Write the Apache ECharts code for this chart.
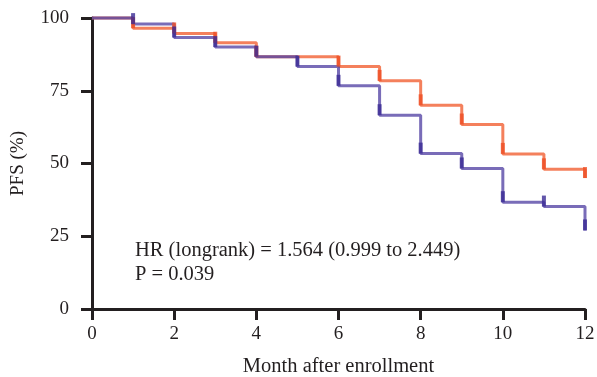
<!DOCTYPE html>
<html><head><meta charset="utf-8">
<script src="https://cdn.jsdelivr.net/npm/echarts@6/dist/echarts.min.js"></script>
<style>html,body{margin:0;padding:0;background:#fff}#c{width:597px;height:377px}</style>
</head><body><div id="c"></div>
<script>
var xTicks = [0, 2, 4, 6, 8, 10, 12];
var yTicks = [0, 25, 50, 75, 100];
var orangeTime = [0, 1, 2, 3, 4, 6, 7, 8, 9, 10, 11, 12];
var orangePFS  = [100, 96.5, 94.7, 91.5, 86.7, 83.3, 78.4, 70.0, 63.4, 53.3, 48.0, 45.0];
var purpleTime = [0, 1, 2, 3, 4, 5, 6, 7, 8, 9, 10, 11, 12];
var purplePFS  = [100, 97.9, 93.3, 90.0, 86.7, 83.3, 76.7, 66.6, 53.4, 48.3, 36.7, 35.2, 27.0];
var statLines = ['HR (longrank) = 1.564 (0.999 to 2.449)', 'P = 0.039'];

function pairs(t, v) { return t.map(function (x, i) { return [x, v[i]]; }); }
var FONT = 'Liberation Serif';
var chart = echarts.init(document.getElementById('c'), null, {renderer: 'canvas'});
var oLine = '#F26A3F', oTick = '#EF4F25', pLine = '#5747A6', pTick = '#3B2C95';
chart.setOption({
  animation: false,
  grid: {left: 92, right: 12, top: 18, bottom: 68, containLabel: false, outerBoundsMode: 'none'},
  xAxis: {
    type: 'value', min: 0, max: 12, interval: 2,
    name: 'Month after enrollment', nameLocation: 'middle', nameGap: 47,
    nameTextStyle: {fontFamily: FONT, fontSize: 20.5, color: '#231F20'},
    axisLine: {onZero: false, lineStyle: {color: '#231F20', width: 3}},
    axisTick: {length: 11, lineStyle: {color: '#231F20', width: 3}},
    axisLabel: {margin: 16, fontFamily: FONT, fontSize: 19, color: '#231F20'},
    splitLine: {show: false}
  },
  yAxis: {
    type: 'value', min: 0, max: 100, interval: 25,
    name: 'PFS (%)', nameLocation: 'middle', nameGap: 64, nameRotate: 90,
    nameTextStyle: {fontFamily: FONT, fontSize: 19, color: '#231F20'},
    axisLine: {onZero: false, lineStyle: {color: '#231F20', width: 3}},
    axisTick: {length: 11, lineStyle: {color: '#231F20', width: 3}},
    axisLabel: {margin: 23, fontFamily: FONT, fontSize: 19, color: '#231F20'},
    splitLine: {show: false}
  },
  graphic: [
    {type: 'text', left: 135, top: 240, style: {text: statLines[0], font: '20.5px "Liberation Serif"', fill: '#231F20'}},
    {type: 'text', left: 135, top: 264, style: {text: statLines[1], font: '20.5px "Liberation Serif"', fill: '#231F20'}}
  ],
  series: [
    {type: 'line', step: 'end', data: pairs(orangeTime, orangePFS), showSymbol: false, z: 2,
     lineStyle: {color: oLine, width: 3, opacity: 0.85}, clip: false},
    {type: 'line', step: 'end', data: pairs(purpleTime, purplePFS), showSymbol: false, z: 3,
     lineStyle: {color: pLine, width: 3, opacity: 0.8}, clip: false},
    {type: 'scatter', data: pairs(orangeTime.slice(1), orangePFS.slice(1)), symbol: 'rect',
     symbolSize: [4, 11], symbolOffset: [0, -5.5], itemStyle: {color: oTick}, z: 4, clip: false},
    {type: 'scatter', data: pairs(purpleTime.slice(1), purplePFS.slice(1)), symbol: 'rect',
     symbolSize: [4, 11], symbolOffset: [0, -5.5], itemStyle: {color: pTick}, z: 5, clip: false}
  ]
});
</script></body></html>
